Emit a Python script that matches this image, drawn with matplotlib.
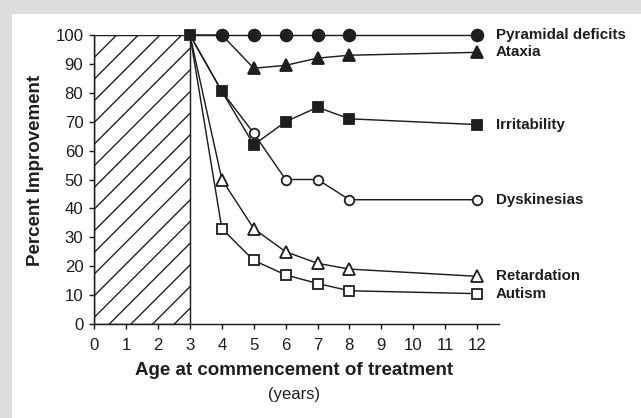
import matplotlib
matplotlib.use("Agg")
import matplotlib.pyplot as plt
from matplotlib.patches import Rectangle

plt.rcParams['font.family'] = ['Liberation Sans', 'DejaVu Sans']
plt.rcParams['hatch.linewidth'] = 0.75
plt.rcParams['hatch.color'] = '#1e1e1e'

ages = [3, 4, 5, 6, 7, 8, 12]
pyramidal = [100, 100, 100, 100, 100, 100, 100]
ataxia = [100, 100, 88.5, 89.5, 92, 93, 94]
irritability = [100, 80.5, 62, 70, 75, 71, 69]
dyskinesias = [100, 80.5, 66, 50, 50, 43, 43]
retardation = [100, 50, 33, 25, 21, 19, 16.5]
autism = [100, 33, 22, 17, 14, 11.5, 10.5]

names = ['Pyramidal deficits', 'Ataxia', 'Irritability',
         'Dyskinesias', 'Retardation', 'Autism']
series = [pyramidal, ataxia, irritability, dyskinesias, retardation, autism]
# marker, size, filled, first marked point, z
styles = [('o', 6.5, True, 1, 4), ('^', 6.8, True, 2, 3), ('s', 5.0, True, 0, 5),
          ('o', 5.3, False, 2, 2), ('^', 6.4, False, 1, 2), ('s', 5.2, False, 1, 2)]

W, H, DPI = 641, 418, 130
ink = '#1e1e1e'

fig = plt.figure(figsize=(W / DPI, H / DPI), dpi=DPI, facecolor='#dcdddf')
fig.patches.append(Rectangle((12 / W, 0), 1, 1 - 14 / H, transform=fig.transFigure,
                             facecolor='white', edgecolor='none', zorder=-10))

ax = fig.add_axes([94.3 / W, 94 / H, 405 / W, 289 / H])
ax.set_facecolor('none')

# hatched "no treatment" block from 0 to 3 years
ax.add_patch(Rectangle((0, 0), 3, 100, facecolor='none', edgecolor=ink,
                       hatch='//', linewidth=0.8, zorder=1))

for name, vals, (m, ms, filled, first, z) in zip(names, series, styles):
    ax.plot(ages, vals, color=ink, linewidth=0.8, marker=m, markersize=ms,
            markevery=slice(first, None),
            markerfacecolor=ink if filled else 'white', markeredgecolor=ink,
            markeredgewidth=1.0, clip_on=False, zorder=z)
    ax.text(12.6, vals[-1], name, fontsize=8.4, fontweight='bold', color=ink,
            ha='left', va='center')

ax.set_xlim(0, 12.7)
ax.set_ylim(0, 100)
ax.set_xticks(range(0, 13))
ax.set_yticks(range(0, 101, 10))
for s in ['top', 'right']:
    ax.spines[s].set_visible(False)
for s in ['left', 'bottom']:
    ax.spines[s].set_linewidth(0.8)
    ax.spines[s].set_color(ink)
ax.tick_params(direction='out', length=3, width=0.8, color=ink,
               labelsize=9.3, labelcolor=ink)
ax.tick_params(axis='x', pad=4.5)
ax.tick_params(axis='y', pad=3)

fig.text(35.5 / W, 1 - 170.5 / H, 'Percent Improvement', rotation=90,
         fontsize=10.4, fontweight='bold', color=ink, ha='center', va='center')
fig.text(294 / W, 1 - 370.5 / H, 'Age at commencement of treatment',
         fontsize=10.4, fontweight='bold', color=ink, ha='center', va='center')
fig.text(294 / W, 1 - 394 / H, '(years)', fontsize=9.2, color=ink,
         ha='center', va='center')

fig.savefig('out.png', dpi=DPI, facecolor=fig.get_facecolor())
